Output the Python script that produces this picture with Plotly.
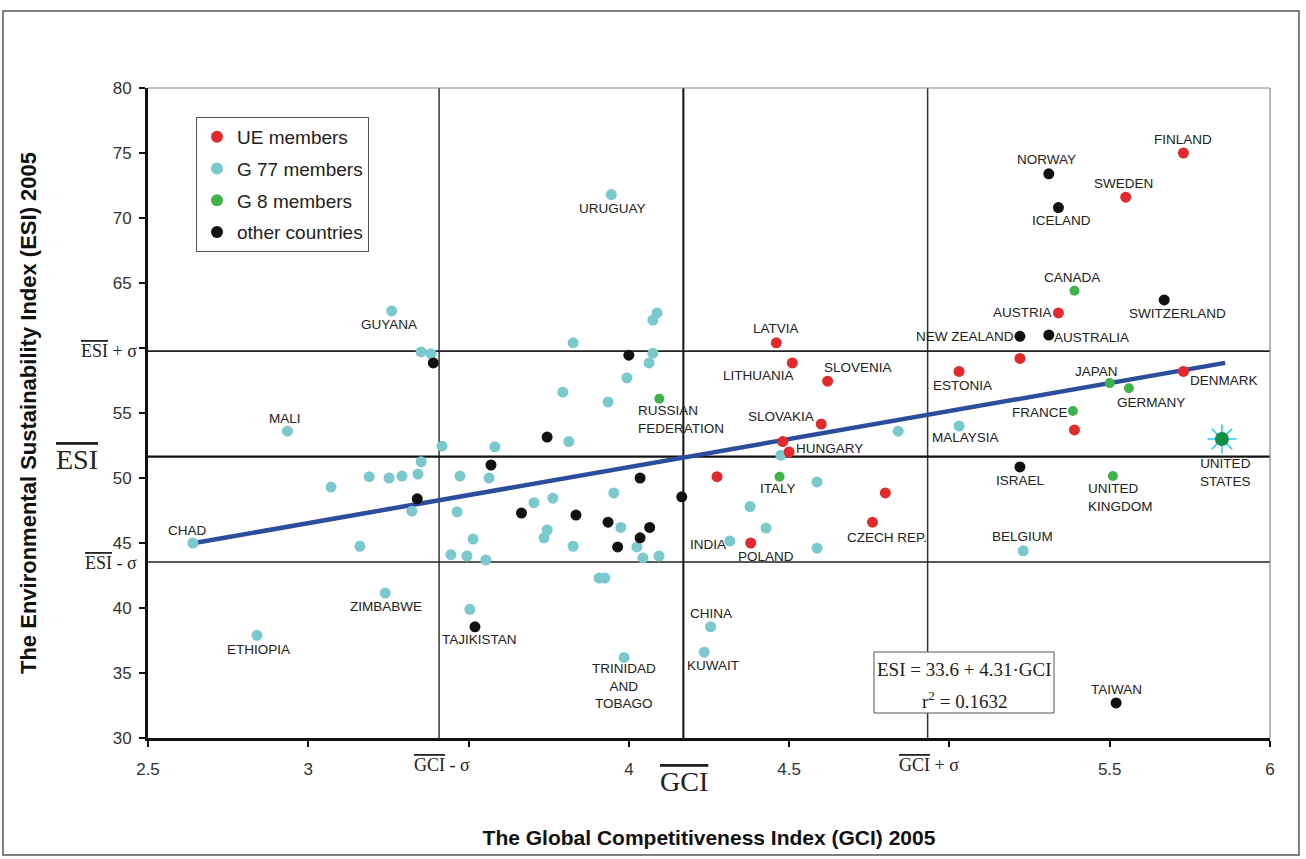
import plotly.graph_objects as go

# ---------------- data ----------------
X_RANGE = [2.5, 6]
Y_RANGE = [30, 80]
X_TICKS = [2.5, 3, 4, 4.5, 5.5, 6]
X_TICKTEXT = ["2.5", "3", "4", "4.5", "5.5", "6"]
X_MINOR_TICKS = [3.5, 5]
Y_TICKS = [30, 35, 40, 45, 50, 55, 65, 70, 75, 80]
Y_TICKTEXT = ["30", "35", "40", "45", "50", "55", "65", "70", "75", "80"]
Y_MINOR_TICKS = [60]

GCI_MEAN, GCI_SD = 4.17, 0.762
ESI_MEAN, ESI_SD = 51.65, 8.11
FIT_A, FIT_B = 33.6, 4.31
FIT_X = [2.64, 5.86]

ue_names = ["FINLAND", "SWEDEN", "AUSTRIA", "", "ESTONIA", "DENMARK", "", "LATVIA",
            "LITHUANIA", "SLOVENIA", "SLOVAKIA", "", "HUNGARY", "", "", "CZECH REP.", "POLAND"]
ue_gci = [5.73, 5.55, 5.34, 5.22, 5.03, 5.73, 5.39, 4.46,
          4.51, 4.62, 4.60, 4.48, 4.50, 4.275, 4.80, 4.76, 4.38]
ue_esi = [75.0, 71.6, 62.7, 59.2, 58.2, 58.2, 53.7, 60.4,
          58.85, 57.45, 54.15, 52.8, 52.0, 50.1, 48.85, 46.6, 45.0]

g8_names = ["CANADA", "JAPAN", "GERMANY", "FRANCE", "UNITED<br>KINGDOM", "ITALY", "RUSSIAN<br>FEDERATION"]
g8_gci = [5.39, 5.50, 5.56, 5.385, 5.51, 4.47, 4.095]
g8_esi = [64.4, 57.3, 56.9, 55.15, 50.15, 50.1, 56.1]

us_names = ["UNITED<br>STATES"]
us_gci = [5.85]
us_esi = [53.0]

oth_names = ["NORWAY", "ICELAND", "SWITZERLAND", "NEW ZEALAND", "AUSTRALIA", "ISRAEL", "TAIWAN",
             "TAJIKISTAN", "", "", "", "", "", "", "", "", "", "", "", "", ""]
oth_gci = [5.31, 5.34, 5.67, 5.22, 5.31, 5.22, 5.52,
           3.52, 3.39, 4.00, 3.745, 3.57, 3.34, 4.035, 4.165, 3.665, 3.835, 3.935, 4.065, 4.035, 3.965]
oth_esi = [73.4, 70.8, 63.7, 60.9, 61.0, 50.85, 32.7,
           38.55, 58.85, 59.45, 53.15, 51.0, 48.4, 50.0, 48.55, 47.3, 47.15, 46.6, 46.2, 45.4, 44.7]

g77_names = ["URUGUAY", "GUYANA", "MALI", "CHAD", "ETHIOPIA", "ZIMBABWE", "TRINIDAD<br>AND<br>TOBAGO",
             "CHINA", "KUWAIT", "INDIA", "MALAYSIA", "BELGIUM"] + [""] * 47
g77_gci = [3.945, 3.26, 2.935, 2.64, 2.84, 3.24, 3.985, 4.255, 4.235, 4.315, 5.03, 5.23,
           4.088, 4.075, 3.826, 4.075, 4.063, 3.994, 3.794, 3.935, 3.813, 3.417,
           3.582, 3.473, 3.564, 3.953, 3.763, 3.704, 3.464, 3.975, 3.745, 3.735,
           3.514, 3.826, 4.025, 3.445, 3.495, 3.554, 4.044, 4.094, 3.907, 3.925,
           3.352, 3.383, 3.352, 3.071, 3.19, 3.252, 3.292, 3.342, 3.323, 3.161,
           3.504, 4.84, 4.474, 4.587, 4.378, 4.428, 4.587]
g77_esi = [71.8, 62.85, 53.6, 45.0, 37.9, 41.15, 36.2, 38.55, 36.6, 45.15, 54.0, 44.4,
           62.7, 62.15, 60.4, 59.6, 58.85, 57.7, 56.6, 55.85, 52.8, 52.45,
           52.4, 50.15, 50.0, 48.85, 48.45, 48.1, 47.4, 46.2, 46.0, 45.4,
           45.3, 44.75, 44.7, 44.1, 44.0, 43.7, 43.85, 44.0, 42.3, 42.3,
           59.7, 59.55, 51.25, 49.3, 50.1, 50.0, 50.15, 50.3, 47.45, 44.75,
           39.9, 53.6, 51.75, 49.7, 47.8, 46.15, 44.6]

X_TITLE = "The Global Competitiveness Index (GCI) 2005"
Y_TITLE = "The Environmental Sustainability Index (ESI) 2005"

# ---------------- styling / layout ----------------
W, H = 1306, 859
ML, MR, MT, MB = 148, 36, 88, 121
PW, PH = W - ML - MR, H - MT - MB


def px(xp):
    return (xp - ML) / PW


def py(yp):
    return (H - MB - yp) / PH


RED, CYAN, GREEN, BLACK, USG = "#e3292b", "#79c9cf", "#3fb34a", "#111111", "#168f44"
SANS = "Liberation Sans, Arial, sans-serif"
LABEL_FONT = dict(family=SANS, size=13.5, color="#222222")
SERIF = "Liberation Serif, Times New Roman, serif"

# label offsets in screen pixels (dx right, dy down)
OFFS = {
    "FINLAND": (0, -14), "SWEDEN": (-2, -14), "NORWAY": (-2, -14), "ICELAND": (3, 13),
    "CANADA": (-2, -13), "SWITZERLAND": (13, 14), "AUSTRIA": (-36, 0), "NEW ZEALAND": (-55, 0),
    "AUSTRALIA": (43, 2), "ESTONIA": (3, 14), "JAPAN": (-13, -12), "GERMANY": (22, 14),
    "DENMARK": (41, 9), "FRANCE": (-33, 1), "MALAYSIA": (6, 11), "UNITED<br>STATES": (4, 33),
    "ISRAEL": (1, 14), "BELGIUM": (-1, -14), "TAIWAN": (0, -13), "LATVIA": (0, -14),
    "LITHUANIA": (-34, 13), "SLOVENIA": (30, -14), "SLOVAKIA": (-40, -8), "HUNGARY": (40, -4),
    "ITALY": (-2, 12), "CZECH REP.": (15, 15), "INDIA": (-22, 3), "POLAND": (15, 13),
    "URUGUAY": (1, 14), "GUYANA": (-3, 14), "MALI": (-2, -13), "CHAD": (-5, -13),
    "ETHIOPIA": (2, 14), "ZIMBABWE": (1, 13), "TAJIKISTAN": (5, 13),
    "TRINIDAD<br>AND<br>TOBAGO": (0, 29), "CHINA": (0, -13), "KUWAIT": (9, 13),
}
LEFT_OFFS = {"RUSSIAN<br>FEDERATION": (-23, 21), "UNITED<br>KINGDOM": (-27, 21)}

fig = go.Figure()

# regression line
fig.add_trace(go.Scatter(x=FIT_X, y=[FIT_A + FIT_B * v for v in FIT_X], mode="lines",
                         line=dict(color="#2c4c9c", width=4.5), showlegend=False, hoverinfo="skip"))

groups = [
    ("G 77 members", g77_gci, g77_esi, g77_names, CYAN, 11, 2),
    ("other countries", oth_gci, oth_esi, oth_names, BLACK, 11, 4),
    ("UE members", ue_gci, ue_esi, ue_names, RED, 11, 1),
    ("G 8 members", g8_gci, g8_esi, g8_names, GREEN, 10, 3),
]
for name, xs, ys, labels, col, size, rank in groups:
    fig.add_trace(go.Scatter(x=xs, y=ys, mode="markers", name=name, text=labels,
                             legendgroup=name, legendrank=rank,
                             marker=dict(color=col, size=size, line=dict(width=0))))

# United States sun marker
fig.add_trace(go.Scatter(x=us_gci, y=us_esi, mode="markers", showlegend=False,
                         marker=dict(symbol="asterisk-open", size=24, line=dict(color=USG, width=1.6))))
fig.add_trace(go.Scatter(x=us_gci, y=us_esi, mode="markers", showlegend=False, text=us_names,
                         marker=dict(symbol="circle", size=14, color=USG)))

annotations = []
all_pts = [(g77_gci, g77_esi, g77_names), (oth_gci, oth_esi, oth_names), (ue_gci, ue_esi, ue_names),
           (g8_gci, g8_esi, g8_names), (us_gci, us_esi, us_names)]
for xs, ys, labels in all_pts:
    for xv, yv, lab in zip(xs, ys, labels):
        if not lab:
            continue
        if lab in LEFT_OFFS:
            dx, dy = LEFT_OFFS[lab]
            annotations.append(dict(x=xv, y=yv, xref="x", yref="y", text=lab, showarrow=False,
                                    xanchor="left", yanchor="middle", align="left",
                                    xshift=dx, yshift=-dy, font=LABEL_FONT))
        else:
            dx, dy = OFFS.get(lab, (0, 14))
            annotations.append(dict(x=xv, y=yv, xref="x", yref="y", text=lab, showarrow=False,
                                    xanchor="center", yanchor="middle", align="center",
                                    xshift=dx, yshift=-dy, font=LABEL_FONT))

OV = '<span style="text-decoration:overline">%s</span>'
sfont = dict(family=SERIF, size=18, color="#222222")
bfont = dict(family=SERIF, size=28, color="#222222")
annotations += [
    dict(x=px(139), y=ESI_MEAN + ESI_SD, xref="paper", yref="y", text=OV % "ESI" + " + σ",
         showarrow=False, xanchor="right", yanchor="middle", font=sfont),
    dict(x=px(139), y=ESI_MEAN - ESI_SD, xref="paper", yref="y", text=OV % "ESI" + " - σ",
         showarrow=False, xanchor="right", yanchor="middle", yshift=-1, font=sfont),
    dict(x=px(77), y=ESI_MEAN, xref="paper", yref="y", text=OV % "ESI",
         showarrow=False, xanchor="center", yanchor="middle", yshift=-3, font=bfont),
    dict(x=GCI_MEAN - GCI_SD, y=py(765), xref="x", yref="paper", text=OV % "GCI" + " - σ",
         showarrow=False, xanchor="center", yanchor="middle", xshift=3, font=sfont),
    dict(x=GCI_MEAN + GCI_SD, y=py(765), xref="x", yref="paper", text=OV % "GCI" + " + σ",
         showarrow=False, xanchor="center", yanchor="middle", xshift=1, font=sfont),
    dict(x=GCI_MEAN, y=py(781), xref="x", yref="paper", text=OV % "GCI",
         showarrow=False, xanchor="center", yanchor="middle", xshift=1, font=bfont),
    # formula box text
    dict(x=px(964), y=py(669), xref="paper", yref="paper", text="ESI = 33.6 + 4.31·GCI",
         showarrow=False, xanchor="center", yanchor="middle",
         font=dict(family=SERIF, size=19, color="#222222")),
    dict(x=px(964), y=py(700), xref="paper", yref="paper", text="r<sup>2</sup> = 0.1632",
         showarrow=False, xanchor="center", yanchor="middle",
         font=dict(family=SERIF, size=19, color="#222222")),
]

shapes = [
    # reference lines
    dict(type="line", xref="x", yref="paper", x0=GCI_MEAN, x1=GCI_MEAN, y0=0, y1=1,
         line=dict(color="#111111", width=2), layer="below"),
    dict(type="line", xref="x", yref="paper", x0=GCI_MEAN - GCI_SD, x1=GCI_MEAN - GCI_SD, y0=0, y1=1,
         line=dict(color="#333333", width=1.5), layer="below"),
    dict(type="line", xref="x", yref="paper", x0=GCI_MEAN + GCI_SD, x1=GCI_MEAN + GCI_SD, y0=0, y1=1,
         line=dict(color="#333333", width=1.5), layer="below"),
    dict(type="line", xref="paper", yref="y", x0=0, x1=1, y0=ESI_MEAN, y1=ESI_MEAN,
         line=dict(color="#111111", width=2.2), layer="below"),
    dict(type="line", xref="paper", yref="y", x0=0, x1=1, y0=ESI_MEAN + ESI_SD, y1=ESI_MEAN + ESI_SD,
         line=dict(color="#222222", width=1.6), layer="below"),
    dict(type="line", xref="paper", yref="y", x0=0, x1=1, y0=ESI_MEAN - ESI_SD, y1=ESI_MEAN - ESI_SD,
         line=dict(color="#222222", width=1.6), layer="below"),
    # top / right frame of plot
    dict(type="line", xref="paper", yref="paper", x0=0, x1=1, y0=1, y1=1,
         line=dict(color="#888888", width=1.2)),
    dict(type="line", xref="paper", yref="paper", x0=1, x1=1, y0=0, y1=1,
         line=dict(color="#888888", width=1.2)),
    # formula box
    dict(type="rect", xref="paper", yref="paper", x0=px(874), x1=px(1054), y0=py(713), y1=py(652),
         line=dict(color="#555555", width=1), fillcolor="white", layer="below"),
    # outer image frame
    dict(type="rect", xref="paper", yref="paper", x0=px(3), x1=px(1299), y0=py(855), y1=py(11),
         line=dict(color="#555555", width=1.5)),
]

axis_common = dict(showgrid=False, zeroline=False, showline=True, linecolor="#111111", linewidth=3,
                   ticks="outside", ticklen=6, tickwidth=2, tickcolor="#111111",
                   tickfont=dict(family=SANS, size=17, color="#333333"))
minor_common = dict(ticks="outside", ticklen=6, tickwidth=2, tickcolor="#111111", showgrid=False)

fig.update_layout(
    width=W, height=H,
    margin=dict(l=ML, r=MR, t=MT, b=MB),
    paper_bgcolor="white", plot_bgcolor="white",
    xaxis=dict(range=X_RANGE, tickvals=X_TICKS, ticktext=X_TICKTEXT, ticklabelstandoff=8,
               minor=dict(tickvals=X_MINOR_TICKS, **minor_common),
               title=dict(text="<b>" + X_TITLE + "</b>", standoff=52,
                          font=dict(family=SANS, size=21, color="#111111")),
               **axis_common),
    yaxis=dict(range=Y_RANGE, tickvals=Y_TICKS, ticktext=Y_TICKTEXT, ticklabelstandoff=4,
               minor=dict(tickvals=Y_MINOR_TICKS, **minor_common),
               title=dict(text="<b>" + Y_TITLE + "</b>", standoff=70,
                          font=dict(family=SANS, size=22, color="#111111")),
               **axis_common),
    legend=dict(x=px(196), y=py(117), xanchor="left", yanchor="top",
                bordercolor="#555555", borderwidth=1, bgcolor="white", tracegroupgap=4,
                font=dict(family=SANS, size=19, color="#222222"),
                itemsizing="constant"),
    annotations=annotations,
    shapes=shapes,
    showlegend=True,
)

fig.write_html("out.html", config={"displayModeBar": False},
               post_script="document.body.style.margin='0';document.body.style.padding='0';")
